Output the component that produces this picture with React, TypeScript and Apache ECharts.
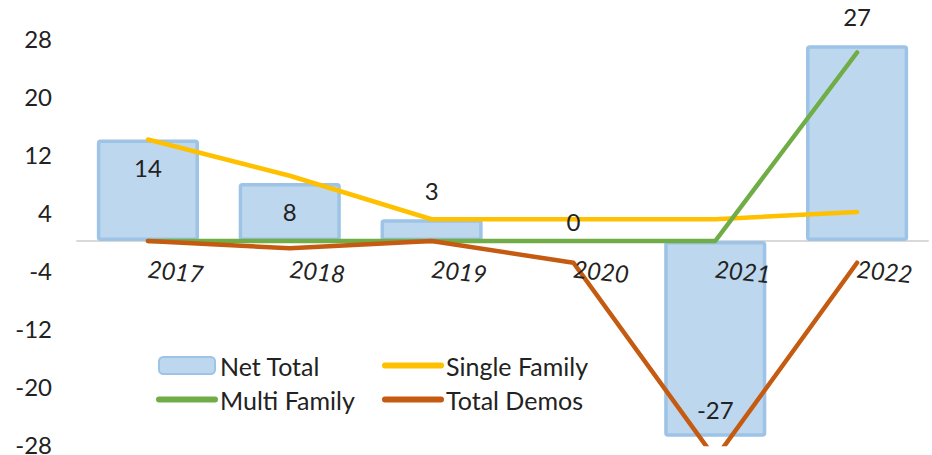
import React, { useEffect, useRef } from "react";
import * as echarts from "echarts";

const categories = ["2017", "2018", "2019", "2020", "2021", "2022"];
const netTotal = [14, 8, 3, 0, -27, 27];
const singleFamily = [14, 9, 3, 3, 3, 4];
const multiFamily = [0, 0, 0, 0, 0, 26];
const totalDemos = [0, -1, 0, -3, -30, -3];
const yTicks = { min: -28, max: 28, interval: 8 };

const FONT = "Lato";
const TEXT = "#222222";
const FS = 24;

// label placement per bar (style, not data)
const labelPlacement: { position: string; distance: number }[] = [
  { position: "insideTop", distance: 16 },
  { position: "insideTop", distance: 16 },
  { position: "top", distance: 17 },
  { position: "top", distance: 8 },
  { position: "insideBottom", distance: 15 },
  { position: "top", distance: 17 },
];

export default function App() {
  const ref = useRef<HTMLDivElement>(null);
  useEffect(() => {
    if (!ref.current) return;
    const chart = echarts.init(ref.current, null, { renderer: "svg" });
    const lineSeries = (name: string, data: number[], color: string) => ({
      name,
      type: "line",
      data,
      symbol: "none",
      lineStyle: { color, width: 4.5, cap: "round", join: "round" },
      itemStyle: { color },
      clip: true,
      z: 3,
    });
    const lineLegend = (name: string) => ({
      name,
      itemStyle: { opacity: 0 },
      lineStyle: { width: 6, cap: "round" },
    });
    const legendBase = {
      orient: "vertical",
      top: 348,
      itemWidth: 56,
      itemHeight: 17,
      itemGap: 9,
      textStyle: { fontSize: 25, color: TEXT, fontFamily: FONT },
    };
    chart.setOption({
      animation: false,
      textStyle: { fontFamily: FONT },
      grid: [
        { left: 77, right: 4, top: 38, bottom: 11, containLabel: false, outerBoundsMode: "none" },
        // helper grid whose bottom edge is the zero line, only for the category labels
        { left: 77, right: 4, top: 38, bottom: 455 - 241, containLabel: false, outerBoundsMode: "none" },
      ],
      legend: [
        { ...legendBase, data: [{ name: "Net Total" }, lineLegend("Multi Family")], left: 151 },
        { ...legendBase, data: [lineLegend("Single Family"), lineLegend("Total Demos")], left: 377 },
      ],
      xAxis: [
        {
          type: "category",
          gridIndex: 0,
          data: categories,
          axisLine: { onZero: true, lineStyle: { color: "#D9D9D9", width: 2 } },
          axisTick: { show: false },
          axisLabel: { show: false },
        },
        {
          type: "category",
          gridIndex: 1,
          position: "bottom",
          z: 20,
          data: categories,
          axisLine: { show: false },
          axisTick: { show: false },
          axisLabel: {
            rotate: -6,
            align: "left",
            verticalAlign: "middle",
            margin: 27,
            fontSize: FS,
            fontStyle: "italic",
            color: TEXT,
            fontFamily: FONT,
          },
        },
      ],
      yAxis: [
        {
          type: "value",
          gridIndex: 0,
          min: yTicks.min,
          max: yTicks.max,
          interval: yTicks.interval,
          splitLine: { show: false },
          axisLine: { show: false },
          axisTick: { show: false },
          axisLabel: { fontSize: FS, color: TEXT, margin: 25, fontFamily: FONT },
        },
        {
          type: "value",
          gridIndex: 1,
          show: false,
          min: 0,
          max: 1,
        },
      ],
      series: [
        {
          name: "Net Total",
          type: "bar",
          barWidth: "72%",
          barGap: "-100%",
          z: 2,
          data: netTotal,
          itemStyle: { color: "#BDD7EE", borderColor: "#9DC3E6", borderWidth: 3.5, borderRadius: 2 },
        },
        lineSeries("Single Family", singleFamily, "#FFC000"),
        lineSeries("Multi Family", multiFamily, "#70AD47"),
        lineSeries("Total Demos", totalDemos, "#C55A11"),
        {
          // transparent twin of Net Total that carries its data labels above the lines
          name: "Net Total labels",
          type: "bar",
          barWidth: "72%",
          barGap: "-100%",
          z: 10,
          silent: true,
          data: netTotal.map((v, i) => ({
            value: v,
            label: {
              show: true,
              position: labelPlacement[i].position,
              distance: labelPlacement[i].distance,
            },
          })),
          itemStyle: { color: "rgba(0,0,0,0)", borderWidth: 0 },
          label: { show: true, fontSize: FS, color: TEXT, fontFamily: FONT },
        },
      ],
    });
    return () => chart.dispose();
  }, []);
  return (
    <div
      ref={ref}
      style={{ position: "fixed", left: 0, top: 0, width: 932, height: 455, background: "#fff" }}
    />
  );
}
